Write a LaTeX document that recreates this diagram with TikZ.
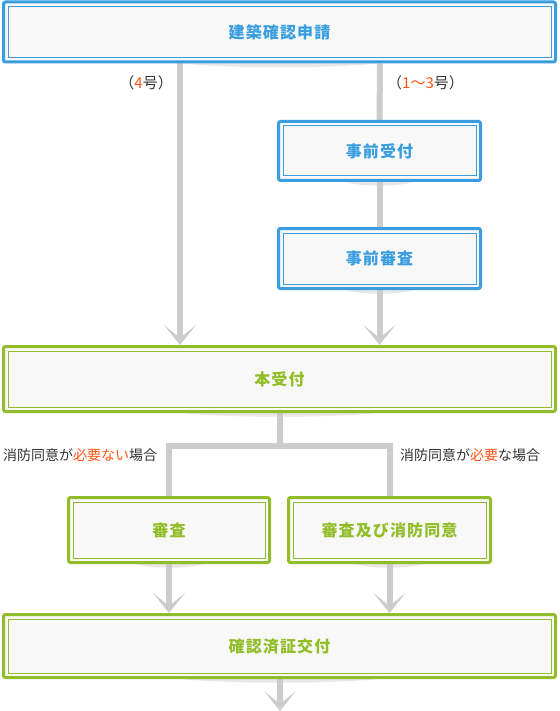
\documentclass[tikz,border=0pt]{standalone}
\usepackage{fontspec}
\setmainfont{Noto Sans CJK JP}
\newfontfamily\boxfont[LetterSpace=7]{Noto Sans CJK JP}
\usepackage{xcolor}
\usetikzlibrary{arrows.meta}
\usetikzlibrary{backgrounds}
\definecolor{appblue}{RGB}{58,157,224}
\definecolor{appgreen}{RGB}{145,190,40}
\definecolor{accent}{RGB}{255,85,20}
\definecolor{linegray}{RGB}{204,204,204}
\definecolor{boxfill}{RGB}{248,248,248}
\definecolor{txtgray}{RGB}{51,51,51}
\tikzset{
    stepnode/.style = {align=center, inner sep=0pt, text centered, rectangle, rounded corners=2pt,
        line width=3pt, fill=boxfill, font=\boxfont\bfseries\fontsize{16}{18}\selectfont},
    blue_box/.style = {stepnode, draw=appblue, text=appblue},
    green_box/.style = {stepnode, draw=appgreen, text=appgreen},
    wide/.style = {minimum width=552pt, minimum height=62pt},
    narrow/.style = {minimum width=202pt, minimum height=62pt},
    tag/.style = {inner sep=0pt, text=txtgray, font=\fontsize{14}{16}\selectfont}
}
\tikzset{
    flow/.style = {draw=linegray, line width=6pt},
    pointer/.style = {flow, -{Stealth[length=20pt, width=32pt, inset=13pt]}},
    shade_under/.style = {fill=black!9}
}

\begin{document}
\begin{tikzpicture}[x=1pt, y=-1pt]
    \useasboundingbox (0,0) rectangle (559,711);

    % boxes
    \node [blue_box, wide, minimum height=60pt] (apply) at (279.5,32) {建築確認申請};
    \node [blue_box, narrow, minimum height=59pt] (pre1) at (379.5,151) {事前受付};
    \node [blue_box, narrow, minimum height=60pt] (pre2) at (379.5,258.5) {事前審査};
    \node [green_box, wide, minimum height=65pt] (main) at (279.5,379) {本受付};
    \node [green_box, narrow, minimum height=65pt, minimum width=201pt] (rev) at (169,530) {審査};
    \node [green_box, narrow, minimum height=65pt] (revc) at (389.5,530) {審査及び消防同意};
    \node [green_box, wide, minimum height=63pt] (issue) at (279.5,646) {確認済証交付};

    \foreach \n/\c in {apply/appblue, pre1/appblue, pre2/appblue, main/appgreen, rev/appgreen, revc/appgreen, issue/appgreen}
        \draw [\c, line width=1pt] ([shift={(6pt,-6pt)}]\n.north west) rectangle ([shift={(-6pt,6pt)}]\n.south east);

    \coordinate (laneA) at (180,83);
    \coordinate (laneB) at (380,83);
    \coordinate (split) at (279.5,446);
    \coordinate (out) at (280,711);

    \begin{scope}[on background layer]
        \foreach \n/\w in {apply/98, pre1/34, pre2/34, main/98, rev/34, revc/34, issue/98}
            \fill [shade_under] ([xshift=-\w pt]\n.south) .. controls ([xshift=-\w pt/2, yshift=-5pt]\n.south) and ([xshift=\w pt/2, yshift=-5pt]\n.south) .. ([xshift=\w pt]\n.south) -- cycle;

        \draw [pointer] (apply.south -| laneA) -- (main.north -| laneA);
        \draw [flow] (apply.south -| laneB) -- (pre1.north);
        \draw [flow] (pre1.south) -- (pre2.north);
        \draw [pointer] (pre2.south) -- (main.north -| pre2);

        \draw [flow] (main.south) -- (split);
        \draw [flow] (rev.north) |- (split) -| (revc.north);

        \draw [pointer] (rev.south) -- (issue.north -| rev);
        \draw [pointer] (revc.south) -- (issue.north -| revc);
        \draw [pointer] (issue.south -| out) -- (out);
    \end{scope}

    % labels
    \node [tag, anchor=east, font=\fontsize{15}{17}\selectfont] (no4) at ([xshift=-7pt]laneA) {（{\color{accent}4}号）};
    \node [tag, anchor=west, font=\fontsize{15}{17}\selectfont] (no13) at ([xshift=7pt]laneB) {（{\color{accent}1～3}号）};
    \node [tag, anchor=west] (nocons) at (3,455) {消防同意が{\color{accent}必要ない}場合};
    \node [tag, anchor=west] (cons) at (400,455) {消防同意が{\color{accent}必要}な場合};
\end{tikzpicture}
\end{document}
